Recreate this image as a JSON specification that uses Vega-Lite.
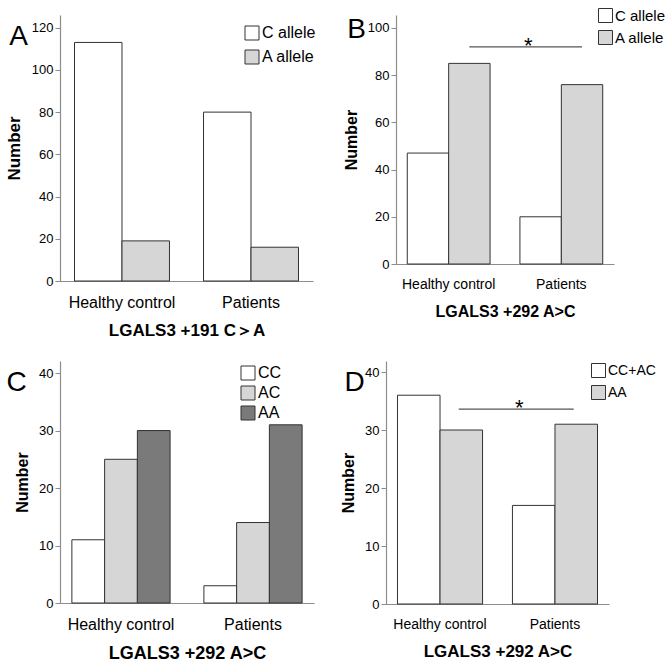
{
  "$schema": "https://vega.github.io/schema/vega-lite/v6.json",
  "background": "white",
  "padding": {"left": 5, "top": 8, "right": 3, "bottom": 3},
  "spacing": 23,
  "resolve": {
    "scale": {"x": "independent", "y": "independent", "xOffset": "independent", "fill": "independent"},
    "legend": {"fill": "independent"},
    "axis": {"x": "independent", "y": "independent"}
  },
  "datasets": {
    "a": [
      {"group": "Healthy control", "allele": "C allele", "count": 113},
      {"group": "Healthy control", "allele": "A allele", "count": 19},
      {"group": "Patients", "allele": "C allele", "count": 80},
      {"group": "Patients", "allele": "A allele", "count": 16}
    ],
    "b": [
      {"group": "Healthy control", "allele": "C allele", "count": 47},
      {"group": "Healthy control", "allele": "A allele", "count": 85},
      {"group": "Patients", "allele": "C allele", "count": 20},
      {"group": "Patients", "allele": "A allele", "count": 76}
    ],
    "bsig": [{"from": "Healthy control", "to": "Patients", "y": 92, "label": "*"}],
    "c": [
      {"group": "Healthy control", "genotype": "CC", "count": 11},
      {"group": "Healthy control", "genotype": "AC", "count": 25},
      {"group": "Healthy control", "genotype": "AA", "count": 30},
      {"group": "Patients", "genotype": "CC", "count": 3},
      {"group": "Patients", "genotype": "AC", "count": 14},
      {"group": "Patients", "genotype": "AA", "count": 31}
    ],
    "d": [
      {"group": "Healthy control", "genotype": "CC+AC", "count": 36},
      {"group": "Healthy control", "genotype": "AA", "count": 30},
      {"group": "Patients", "genotype": "CC+AC", "count": 17},
      {"group": "Patients", "genotype": "AA", "count": 31}
    ],
    "dsig": [{"from": "Healthy control", "to": "Patients", "y": 33.6, "label": "*"}]
  },
  "vconcat": [
    {
      "spacing": 27,
      "resolve": {
        "scale": {"x": "independent", "y": "independent", "xOffset": "independent", "fill": "independent"},
        "legend": {"fill": "independent"},
        "axis": {"x": "independent", "y": "independent"}
      },
      "hconcat": [
        {
          "width": 253,
          "height": 266,
          "title": {"text": "A", "dy": 40, "dx": 4},
          "data": {"name": "a"},
          "mark": {"type": "bar", "stroke": "#333333", "strokeWidth": 1, "fillOpacity": 1},
          "encoding": {
            "x": {
              "field": "group", "type": "nominal", "sort": ["Healthy control", "Patients"],
              "scale": {"paddingInner": 0.264, "paddingOuter": 0.1125},
              "axis": {"title": "LGALS3 +191 C＞A", "labelFontSize": 16, "labelPadding": 13, "titlePadding": 12, "titleFontSize": 17}
            },
            "xOffset": {"field": "allele", "type": "nominal", "sort": ["C allele", "A allele"], "scale": {"domain": ["C allele", "A allele"], "paddingInner": 0, "paddingOuter": 0}},
            "y": {
              "field": "count", "type": "quantitative",
              "scale": {"domain": [0, 126], "nice": false},
              "axis": {"title": "Number", "values": [0, 20, 40, 60, 80, 100, 120], "titleFontSize": 17}
            },
            "fill": {
              "field": "allele", "type": "nominal",
              "scale": {"domain": ["C allele", "A allele"], "range": ["#ffffff", "#d6d6d6"]},
              "legend": {"orient": "none", "legendX": 184, "legendY": 10, "labelFontSize": 16, "rowPadding": 6}
            }
          }
        },
        {
          "width": 218,
          "height": 249,
          "title": {"text": "B", "dy": 40, "dx": 4},
          "layer": [
            {
              "data": {"name": "b"},
              "mark": {"type": "bar", "stroke": "#333333", "strokeWidth": 1, "fillOpacity": 1},
              "encoding": {
                "x": {
                  "field": "group", "type": "nominal", "sort": ["Healthy control", "Patients"],
                  "scale": {"paddingInner": 0.265, "paddingOuter": 0.1},
                  "axis": {"title": "LGALS3 +292 A>C", "labelFontSize": 14, "labelPadding": 13, "titlePadding": 12, "titleFontSize": 16}
                },
                "xOffset": {"field": "allele", "type": "nominal", "sort": ["C allele", "A allele"], "scale": {"domain": ["C allele", "A allele"], "paddingInner": 0, "paddingOuter": 0}},
                "y": {
                  "field": "count", "type": "quantitative",
                  "scale": {"domain": [0, 105.5], "nice": false},
                  "axis": {"title": "Number", "values": [0, 20, 40, 60, 80, 100], "titleFontSize": 16}
                },
                "fill": {
                  "field": "allele", "type": "nominal",
                  "scale": {"domain": ["C allele", "A allele"], "range": ["#ffffff", "#d6d6d6"]},
                  "legend": {"orient": "none", "legendX": 202, "legendY": -7, "labelFontSize": 15, "rowPadding": 3}
                }
              }
            },
            {
              "data": {"name": "bsig"},
              "mark": {"type": "rule", "color": "#555555", "strokeWidth": 1.2},
              "encoding": {
                "x": {"field": "from", "type": "nominal", "bandPosition": 0.75},
                "x2": {"field": "to", "bandPosition": 0.75},
                "y": {"field": "y", "type": "quantitative"}
              }
            },
            {
              "data": {"name": "bsig"},
              "mark": {"type": "text", "fontSize": 22, "baseline": "alphabetic", "dy": 6, "color": "#000000"},
              "encoding": {
                "x": {"field": "to", "type": "nominal", "bandPosition": 0.1},
                "y": {"field": "y", "type": "quantitative"},
                "text": {"field": "label"}
              }
            }
          ]
        }
      ]
    },
    {
      "spacing": 26,
      "resolve": {
        "scale": {"x": "independent", "y": "independent", "xOffset": "independent", "fill": "independent"},
        "legend": {"fill": "independent"},
        "axis": {"x": "independent", "y": "independent"}
      },
      "hconcat": [
        {
          "width": 254,
          "height": 242,
          "title": {"text": "C", "dy": 40, "dx": -8},
          "data": {"name": "c"},
          "mark": {"type": "bar", "stroke": "#333333", "strokeWidth": 1, "fillOpacity": 1},
          "encoding": {
            "x": {
              "field": "group", "type": "nominal", "sort": ["Healthy control", "Patients"],
              "scale": {"paddingInner": 0.256, "paddingOuter": 0.09},
              "axis": {"title": "LGALS3 +292 A>C", "labelFontSize": 16, "labelPadding": 13, "titlePadding": 12, "titleFontSize": 18}
            },
            "xOffset": {"field": "genotype", "type": "nominal", "sort": ["CC", "AC", "AA"], "scale": {"domain": ["CC", "AC", "AA"], "paddingInner": 0, "paddingOuter": 0}},
            "y": {
              "field": "count", "type": "quantitative",
              "scale": {"domain": [0, 42.1], "nice": false},
              "axis": {"title": "Number", "values": [0, 10, 20, 30, 40], "titleFontSize": 16}
            },
            "fill": {
              "field": "genotype", "type": "nominal",
              "scale": {"domain": ["CC", "AC", "AA"], "range": ["#ffffff", "#d6d6d6", "#7a7a7a"]},
              "legend": {"orient": "none", "legendX": 180, "legendY": 4, "labelFontSize": 16, "rowPadding": 2}
            }
          }
        },
        {
          "width": 223,
          "height": 243,
          "title": {"text": "D", "dy": 40, "dx": 4},
          "layer": [
            {
              "data": {"name": "d"},
              "mark": {"type": "bar", "stroke": "#333333", "strokeWidth": 1, "fillOpacity": 1},
              "encoding": {
                "x": {
                  "field": "group", "type": "nominal", "sort": ["Healthy control", "Patients"],
                  "scale": {"paddingInner": 0.26, "paddingOuter": 0.1},
                  "axis": {"title": "LGALS3 +292 A>C", "labelFontSize": 14, "labelPadding": 13, "titlePadding": 12, "titleFontSize": 17}
                },
                "xOffset": {"field": "genotype", "type": "nominal", "sort": ["CC+AC", "AA"], "scale": {"domain": ["CC+AC", "AA"], "paddingInner": 0, "paddingOuter": 0}},
                "y": {
                  "field": "count", "type": "quantitative",
                  "scale": {"domain": [0, 41.9], "nice": false},
                  "axis": {"title": "Number", "values": [0, 10, 20, 30, 40], "titleFontSize": 16}
                },
                "fill": {
                  "field": "genotype", "type": "nominal",
                  "scale": {"domain": ["CC+AC", "AA"], "range": ["#ffffff", "#d6d6d6"]},
                  "legend": {"orient": "none", "legendX": 205, "legendY": 2, "labelFontSize": 14, "rowPadding": 3}
                }
              }
            },
            {
              "data": {"name": "dsig"},
              "mark": {"type": "rule", "color": "#555555", "strokeWidth": 1.2},
              "encoding": {
                "x": {"field": "from", "type": "nominal", "bandPosition": 0.72},
                "x2": {"field": "to", "bandPosition": 0.72},
                "y": {"field": "y", "type": "quantitative"}
              }
            },
            {
              "data": {"name": "dsig"},
              "mark": {"type": "text", "fontSize": 22, "baseline": "alphabetic", "dy": 6, "color": "#000000"},
              "encoding": {
                "x": {"field": "to", "type": "nominal", "bandPosition": 0.08},
                "y": {"field": "y", "type": "quantitative"},
                "text": {"field": "label"}
              }
            }
          ]
        }
      ]
    }
  ],
  "config": {
    "font": "Liberation Sans",
    "view": {"stroke": null},
    "title": {"fontSize": 28, "fontWeight": "normal", "anchor": "start", "frame": "bounds", "color": "#000000", "offset": 0},
    "axis": {"domainColor": "#8c8c8c", "tickColor": "#8c8c8c", "labelColor": "#000000", "titleColor": "#000000", "grid": false, "domainWidth": 1.2},
    "axisY": {"tickSize": 5, "labelFontSize": 13, "titleFontWeight": "bold", "labelPadding": 2, "titlePadding": 8},
    "axisX": {"ticks": false, "labelAngle": 0, "titleFontWeight": "bold"},
    "legend": {"symbolType": "square", "symbolSize": 196, "symbolStrokeColor": "#333333", "symbolStrokeWidth": 1, "symbolOpacity": 1, "title": null, "labelOffset": 2, "padding": 0, "labelColor": "#000000"}
  }
}
